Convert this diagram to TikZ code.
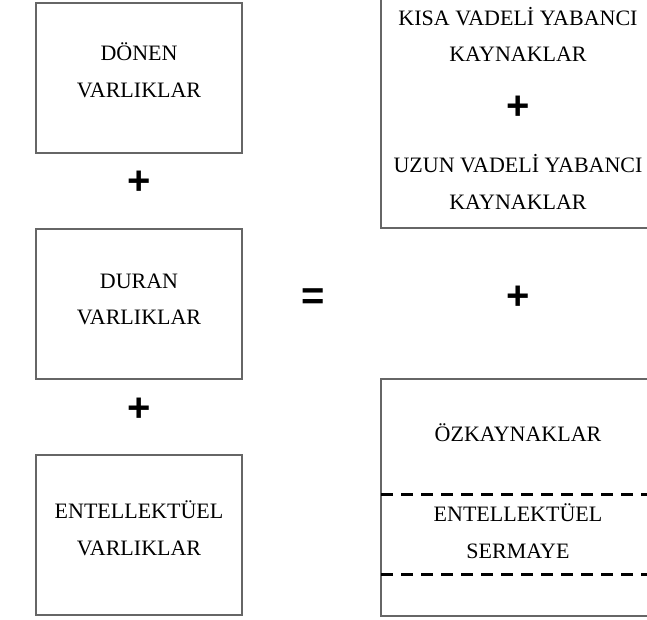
\documentclass[tikz,border=0pt]{standalone}
\usepackage{fontspec}
\setmainfont{Liberation Serif}
\newfontfamily\opfont{Liberation Sans}
\begin{document}
\begin{tikzpicture}[x=1pt,y=-1pt,
  box/.style={draw=black!60, line width=1.3pt},
  lbl/.style={font=\fontsize{22}{22}\selectfont, inner sep=0pt, anchor=base},
  op/.style={font=\opfont\bfseries\fontsize{40}{40}\selectfont, inner sep=0pt},
  sep/.style={draw=black, line width=3pt, dash pattern=on 12pt off 8pt}]
\useasboundingbox (0,0) rectangle (647,619);
\fill[white] (0,0) rectangle (647,619);
% left column
\draw[box] (36,3) rectangle (242,153);
\node[lbl] (t1a) at (139,60) {DÖNEN};
\node[lbl] (t1b) at (139,97) {VARLIKLAR};
\node[op] (p1) at (139,183) {+};
\draw[box] (36,229) rectangle (242,379);
\node[lbl] (t2a) at (139,288) {DURAN};
\node[lbl] (t2b) at (139,324) {VARLIKLAR};
\node[op] (p2) at (139,410) {+};
\draw[box] (36,455) rectangle (242,615);
\node[lbl] (t3a) at (139,518) {ENTELLEKTÜEL};
\node[lbl] (t3b) at (139,555) {VARLIKLAR};
% equals
\node[op] (eq) at (313,299) {=};
% right column
\begin{scope}
\clip (0,0) rectangle (647,619);
\draw[box] (381,-10) rectangle (670,228);
\draw[box] (381,379) rectangle (670,616);
\end{scope}
\node[lbl] (r1a) at (518,25) {KISA VADELİ YABANCI};
\node[lbl] (r1b) at (518,61) {KAYNAKLAR};
\node[op] (p3) at (518,108) {+};
\node[lbl] (r1c) at (518,172) {UZUN VADELİ YABANCI};
\node[lbl] (r1d) at (518,209) {KAYNAKLAR};
\node[op] (p4) at (518,298) {+};
\node[lbl] (r2a) at (518,441) {ÖZKAYNAKLAR};
\coordinate (d1l) at (381,494);
\coordinate (d1r) at (647,494);
\coordinate (d2l) at (381,574);
\coordinate (d2r) at (647,574);
\draw[sep] (d1l) -- (d1r);
\draw[sep] (d2l) -- (d2r);
\node[lbl] (r2b) at (518,521) {ENTELLEKTÜEL};
\node[lbl] (r2c) at (518,558) {SERMAYE};
\end{tikzpicture}
\end{document}
